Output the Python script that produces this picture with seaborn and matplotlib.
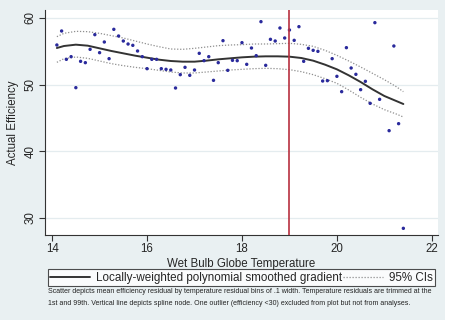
import matplotlib
matplotlib.use("Agg")
import matplotlib.pyplot as plt
from matplotlib.patches import Rectangle
from matplotlib.lines import Line2D
import seaborn as sns
import pandas as pd

# Binned scatter: mean efficiency by wet bulb globe temperature (0.1 bins)
wbgt = [14.1, 14.2, 14.3, 14.4, 14.5, 14.6, 14.7, 14.8, 14.9, 15.0,
        15.1, 15.2, 15.3, 15.4, 15.5, 15.6, 15.7, 15.8, 15.9, 16.0,
        16.1, 16.2, 16.3, 16.4, 16.5, 16.6, 16.7, 16.8, 16.9, 17.0,
        17.1, 17.2, 17.3, 17.4, 17.5, 17.6, 17.7, 17.8, 17.9, 18.0,
        18.1, 18.2, 18.3, 18.4, 18.5, 18.6, 18.7, 18.8, 18.9, 19.0,
        19.1, 19.2, 19.3, 19.4, 19.5, 19.6, 19.7, 19.8, 19.9, 20.0,
        20.1, 20.2, 20.3, 20.4, 20.5, 20.6, 20.7, 20.8, 20.9,
        21.1, 21.2, 21.3, 21.4]
efficiency = [55.95, 58.05, 53.8, 54.2, 49.55, 53.5, 53.3, 55.3, 57.5, 54.8,
              56.4, 53.9, 58.3, 57.3, 56.55, 56.1, 55.9, 55.05, 54.2, 52.4,
              53.8, 53.8, 52.4, 52.3, 52.2, 49.5, 51.5, 52.6, 51.4, 52.2,
              54.7, 53.6, 54.2, 50.65, 53.3, 56.6, 52.15, 53.65, 53.6, 56.3,
              53.05, 55.5, 54.35, 59.45, 52.9, 56.8, 56.55, 58.5, 57.0, 58.2,
              56.65, 58.7, 53.5, 55.45, 55.15, 55.0, 50.55, 50.6, 53.9, 51.25,
              48.95, 55.55, 52.5, 51.55, 49.25, 50.5, 47.2, 59.3, 47.8,
              43.1, 55.8, 44.15, 28.45]

# Locally-weighted polynomial fit with 95% confidence limits
fit_x = [14.1, 14.25, 14.5, 14.75, 15.0, 15.25, 15.5, 15.75, 16.0, 16.25,
         16.5, 16.75, 17.0, 17.25, 17.5, 17.75, 18.0, 18.25, 18.5, 18.75,
         19.0, 19.25, 19.5, 19.75, 20.0, 20.25, 20.5, 20.75, 21.0, 21.25, 21.4]
fit_y = [55.5, 55.8, 56.0, 55.85, 55.45, 55.05, 54.7, 54.35, 54.05, 53.75,
         53.55, 53.45, 53.45, 53.6, 53.8, 53.95, 54.1, 54.2, 54.25, 54.25,
         54.2, 54.0, 53.6, 53.0, 52.3, 51.4, 50.4, 49.3, 48.3, 47.55, 47.1]
ci_upper = [57.2, 57.7, 58.0, 57.95, 57.7, 57.35, 57.0, 56.55, 56.1, 55.7,
            55.35, 55.3, 55.45, 55.65, 55.85, 55.95, 56.0, 56.1, 56.1, 56.15,
            56.2, 56.05, 55.75, 55.15, 54.4, 53.55, 52.65, 51.7, 50.75, 49.7, 48.95]
ci_lower = [53.35, 53.9, 54.15, 53.95, 53.55, 53.15, 52.85, 52.6, 52.4, 52.15,
            51.9, 51.75, 51.75, 51.9, 52.05, 52.2, 52.3, 52.4, 52.45, 52.4,
            52.25, 51.95, 51.5, 50.9, 50.2, 49.2, 48.1, 47.1, 46.25, 45.6, 45.15]

spline_node = 19.0
x_ticks = [14, 16, 18, 20, 22]
y_ticks = [30, 40, 50, 60]

scatter_df = pd.DataFrame({"wbgt": wbgt, "efficiency": efficiency})
fit_df = pd.DataFrame({"x": fit_x, "fit": fit_y, "hi": ci_upper, "lo": ci_lower})

sns.set_theme(style="white")
plt.rcParams["font.family"] = ["Liberation Sans", "DejaVu Sans"]

W, H = 450, 329
fig = plt.figure(figsize=(W / 100, H / 100), dpi=100, facecolor="white")
bg = "#e9f0f2"
fig.patches.append(Rectangle((0, 9 / H), 445 / W, 1 - 9 / H,
                             transform=fig.transFigure, facecolor=bg,
                             edgecolor="none", zorder=-10))

ax = fig.add_axes([45 / W, (H - 235) / H, (438 - 45) / W, (235 - 10) / H])
ax.set_facecolor("white")

for yv in y_ticks:
    ax.axhline(yv, color="#e4ecef", lw=0.9, zorder=0)

ci_style = dict(color="#8f8f8f", lw=0.9, linestyle=(0, (1, 1.4)))
sns.lineplot(data=fit_df, x="x", y="hi", ax=ax, **ci_style)
sns.lineplot(data=fit_df, x="x", y="lo", ax=ax, **ci_style)
sns.lineplot(data=fit_df, x="x", y="fit", ax=ax, color="#333333", lw=1.4)
sns.scatterplot(data=scatter_df, x="wbgt", y="efficiency", ax=ax,
                color="#2a2a9c", s=6, edgecolor="none", zorder=4)
ax.axvline(spline_node, color="#b8303f", lw=1.2, zorder=5)

ax.set_xlim(13.85, 22.13)
ax.set_ylim(27.45, 61.2)
ax.set_xticks(x_ticks)
ax.set_yticks(y_ticks)
ax.set_xticklabels([str(t) for t in x_ticks], fontsize=8.3)
ax.set_yticklabels([str(t) for t in y_ticks], fontsize=8.3, rotation=90,
                   va="center")
ax.tick_params(axis="both", direction="out", length=4, width=0.8,
               color="#333333", pad=2, left=True, bottom=True)
for side in ["top", "right"]:
    ax.spines[side].set_visible(False)
for side in ["left", "bottom"]:
    ax.spines[side].set_color("#333333")
    ax.spines[side].set_linewidth(0.8)

ax.set_xlabel("Wet Bulb Globe Temperature", fontsize=8.3, labelpad=2)
ax.set_ylabel("Actual Efficiency", fontsize=8.3, labelpad=4)

handles = [Line2D([], [], color="#333333", lw=1.4),
           Line2D([], [], **ci_style)]
labels = ["Locally-weighted polynomial smoothed gradient", "95% CIs"]
leg = fig.legend(handles, labels, ncol=2, loc="lower left",
                 bbox_to_anchor=(48 / W, (H - 286) / H, (435 - 48) / W, 13 / H),
                 mode="expand", fontsize=8.4, frameon=True, fancybox=False,
                 edgecolor="#222222", handlelength=3.4, handletextpad=0.5,
                 columnspacing=0.3, borderpad=0.2, borderaxespad=0)
leg.get_frame().set_linewidth(0.8)
leg.get_frame().set_facecolor("white")

note = ("Scatter depicts mean efficiency residual by temperature residual bins of .1 width. "
        "Temperature residuals are trimmed at the\n1st and 99th. Vertical line depicts spline "
        "node. One outlier (efficiency <30) excluded from plot but not from analyses.")
fig.text(48 / W, (H - 288) / H, note, fontsize=5.0, va="top", ha="left",
         linespacing=2.05, color="#222222")

fig.savefig("out.png", dpi=100, facecolor="white")
